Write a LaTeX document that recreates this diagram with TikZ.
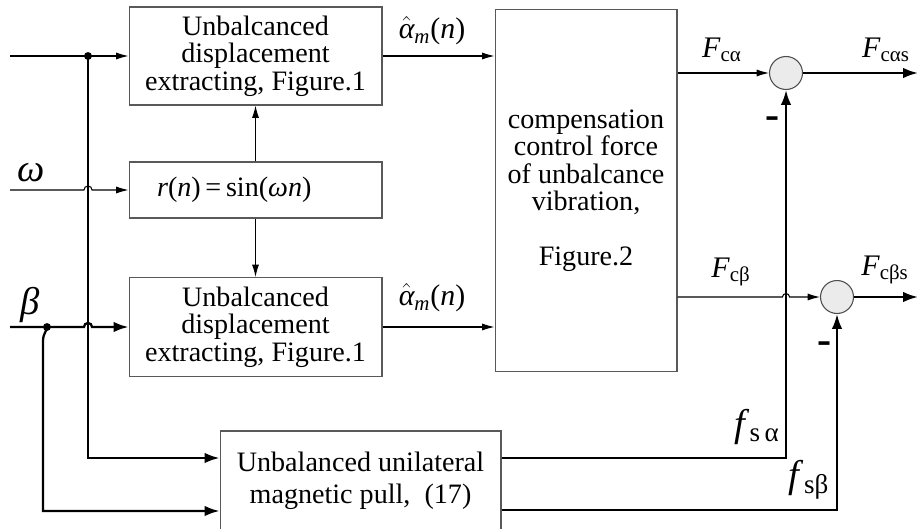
\documentclass[tikz,border=0pt]{standalone}
\usepackage{amsmath}
\usepackage{fontspec}
\setmainfont{Liberation Serif}
\usetikzlibrary{arrows.meta,positioning,calc}

\newcommand{\vi}[1]{\textit{#1}}
\newcommand{\alphahat}{$\hat{\text{\itshape α}}_{\text{\itshape m}}$(\vi{n})}

\begin{document}
\begin{tikzpicture}[
        x=0.02cm, y=0.02cm,
        block/.style={
            draw=black!65,
            line width=0.6pt,
            align=center,
            inner sep=0pt,
            font=\fontsize{16}{15.6}\selectfont
        },
        sumnode/.style={circle, draw=black!70, fill=black!8, line width=0.6pt, minimum size=0.66cm, inner sep=0pt},
        sig/.style={draw=black, line width=0.6pt, -{Latex[length=7pt,width=4pt]}},
        bus/.style={draw=black, line width=1.3pt, -{Latex[length=8.5pt,width=6pt]}},
        lbl/.style={font=\fontsize{17}{17}\selectfont, inner sep=0pt},
        biglbl/.style={font=\fontsize{22}{22}\selectfont, inner sep=0pt},
        minus/.style={font=\fontsize{24}{24}\selectfont\bfseries, inner sep=0pt},
        dot/.style={circle, fill=black, inner sep=0pt, minimum size=4.5pt}
    ]
        \useasboundingbox (0,0) rectangle (918,528);
        \clip (0,0) rectangle (918,528);

        \node[block, minimum width=5.06cm, minimum height=1.96cm] (ext1) at (255.5,472) {Unbalcanced\\displacement\\extracting, Figure.1};
        \node[block, text width=3.94cm, inner xsep=0.56cm, align=left, minimum height=1.12cm] (sine) at (255.5,338) {\vi{r}(\vi{n})\,=\,sin(\vi{ωn})};
        \node[block, minimum width=5.06cm, minimum height=1.98cm] (ext2) at (255.5,201) {Unbalcanced\\displacement\\extracting, Figure.1};
        \node[block, minimum width=3.64cm, minimum height=7.26cm] (comp) at (586,337.5) {compensation\\control force\\of unbalcance\\vibration,\\[15.6pt]Figure.2};
        \node[block, minimum width=5.62cm, minimum height=1.98cm, font=\fontsize{16}{18}\selectfont] (pull) at (360.5,47.5) {Unbalanced unilateral\\magnetic pull,\ \ (17)};

        \node[sumnode] (suma) at (786,455) {};
        \node[sumnode] (sumb) at (837,231) {};

        \coordinate (ina) at (10,472);
        \coordinate (inw) at (10,338);
        \coordinate (inb) at (10,201);
        \coordinate (outa) at (918,455);
        \coordinate (outb) at (918,231);
        \node[dot] (tapa) at (88,472) {};
        \node[dot] (tapb) at (47,201) {};

        % inputs
        \draw[sig] (ina) -- (ext1.west);
        \draw[sig] (inw) -- ([xshift=-2.3pt]tapa.center |- sine.west) arc[start angle=180, end angle=0, radius=2.3pt] -- (sine.west);
        \draw[bus] (inb) -- ([xshift=-2.3pt]tapa.center |- ext2.west) arc[start angle=180, end angle=0, radius=2.3pt] -- (ext2.west);
        \draw[bus] (tapa.center) |- ([yshift=0.45cm]pull.west);
        \draw[bus] (tapb.center) to[out=-100, in=90] ++(-4,-13) |- ([yshift=-0.61cm]pull.west);

        \draw[sig] (sine.north) -- (ext1.south);
        \draw[sig] (sine.south) -- (ext2.north);
        \draw[sig] (ext1.east) -- (ext1.east -| comp.west);
        \draw[sig] (ext2.east) -- (ext2.east -| comp.west);

        % outputs and feedback
        \draw[sig] (comp.east |- suma.west) -- (suma.west);
        \draw[sig] (comp.east |- sumb.west) -- ([xshift=-2pt]suma.south |- sumb.west) arc[start angle=180, end angle=0, radius=2pt] -- (sumb.west);
        \draw[bus] (suma.east) -- (outa);
        \draw[bus] (sumb.east) -- (outb);
        \draw[bus] ([yshift=0.45cm]pull.east) -| (suma.south);
        \draw[bus] ([yshift=-0.59cm]pull.east) -| (sumb.south);

        % labels
        \node[lbl] (alpha1) at (432,497) {\alphahat};
        \node[lbl] (alpha2) at (432,230) {\alphahat};
        \node[biglbl] (omega) at (31,355) {\vi{ω}};
        \node[biglbl] (beta) at (30,223) {\vi{β}};
        \node[lbl] (fca) at (722,478) {\vi{F}\textsubscript{cα}};
        \node[lbl] (fcas) at (886,478) {\vi{F}\textsubscript{cαs}};
        \node[lbl] (fcb) at (731,256) {\vi{F}\textsubscript{cβ}};
        \node[lbl] (fcbs) at (885,258) {\vi{F}\textsubscript{cβs}};
        \node[biglbl] (fsa) at (757,101) {\vi{f}\textsubscript{s\,α}};
        \node[biglbl] (fsb) at (809,48) {\vi{f}\textsubscript{sβ}};
        \node[minus] (minusa) at (773,405) {-};
        \node[minus] (minusb) at (825,180) {-};
    \end{tikzpicture}
\end{document}
